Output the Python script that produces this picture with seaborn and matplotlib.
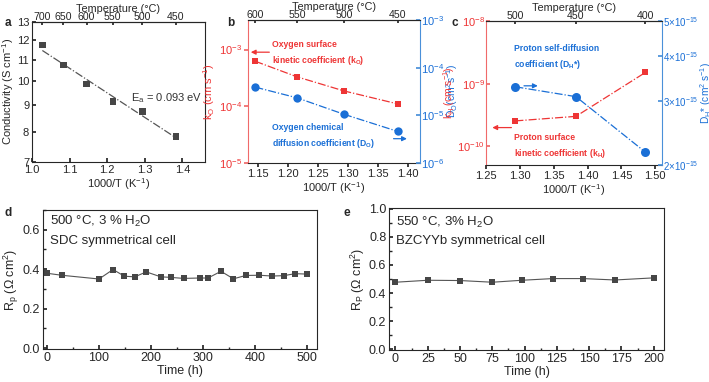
import numpy as np
import pandas as pd
import matplotlib.pyplot as plt
import seaborn as sns
from matplotlib.ticker import FixedLocator, NullLocator, AutoMinorLocator

# panel a: conductivity vs temperature
temp_a = [700, 650, 600, 550, 500, 450]
cond_a = [11.73, 10.74, 9.88, 9.14, 8.75, 7.83]

# panel b: oxygen kinetics
temp_b = [600, 550, 500, 450]
k_o = [6.2e-4, 3.3e-4, 1.86e-4, 1.1e-4]
d_o = [3.9e-5, 2.33e-5, 1.05e-5, 4.6e-6]

# panel c: proton kinetics
temp_c = [500, 450, 400]
k_h = [2.54e-10, 3.0e-10, 1.51e-9]
d_h = [3.29e-15, 3.09e-15, 2.17e-15]

# panel d: SDC stability
time_d = [0, 28, 100, 127, 149, 169, 191, 219, 239, 263, 294, 310, 335, 359, 383, 409, 434, 456, 478, 500]
rp_d = [0.379, 0.369, 0.350, 0.398, 0.364, 0.361, 0.386, 0.361, 0.358, 0.353, 0.355, 0.355, 0.389, 0.351, 0.368, 0.369, 0.365, 0.367, 0.377, 0.375]

# panel e: BZCYYb stability
time_e = [0, 25, 50, 75, 98, 122, 145, 170, 200]
rp_e = [0.477, 0.491, 0.489, 0.477, 0.491, 0.503, 0.503, 0.493, 0.508]

RED = '#ee3535'
RED_AX = '#f06a6a'
BLUE = '#1a6fd6'
BLUE_AX = '#4a90d9'
GREY = '#464646'


def inv(t):
    return 1000 / (np.asarray(t, dtype=float) + 273.15)


sns.set_theme(style="ticks")
plt.rcParams['font.family'] = ['Liberation Sans', 'DejaVu Sans']
plt.rcParams.update({
    'mathtext.fontset': 'custom',
    'mathtext.rm': 'Liberation Sans',
    'mathtext.it': 'Liberation Sans:italic',
    'mathtext.bf': 'Liberation Sans:bold',
    'font.size': 8,
    'axes.labelsize': 8,
    'xtick.labelsize': 8,
    'ytick.labelsize': 8,
    'axes.linewidth': 0.8,
    'xtick.major.size': 3,
    'ytick.major.size': 3,
    'xtick.major.pad': 1.5,
    'ytick.major.pad': 1.5,
    'axes.labelpad': 1,
})

fig = plt.figure(figsize=(7.09, 3.82), dpi=100)


def temp_top(ax, temps):
    top = ax.twiny()
    top.set_xlim(ax.get_xlim())
    top.set_xticks(inv(temps))
    top.set_xticklabels([str(t) for t in temps])
    top.set_xlabel('Temperature (°C)', labelpad=0, fontsize=7.8)
    for s in ['left', 'right', 'bottom']:
        top.spines[s].set_visible(False)
    top.tick_params(axis='x', direction='in', length=2.5, pad=0.3, labelsize=7.6)
    return top


# ---------------- a ----------------
ax_a = fig.add_axes([0.0451, 0.576, 0.244, 0.3665])
df_a = pd.DataFrame({'x': inv(temp_a), 'y': cond_a})
coef = np.polyfit(df_a['x'], np.log10(df_a['y']), 1)
ax_a.plot(df_a['x'], 10 ** np.polyval(coef, df_a['x']), ls='-.', color='#555555', lw=0.9)
sns.scatterplot(data=df_a, x='x', y='y', marker='s', s=22, color=GREY, edgecolor='none', ax=ax_a, zorder=3)
ax_a.set_yscale('log')
ax_a.set_ylim(7, 13)
ax_a.yaxis.set_major_locator(FixedLocator([7, 8, 9, 10, 11, 12, 13]))
ax_a.set_yticklabels(['7', '8', '9', '10', '11', '12', '13'])
ax_a.yaxis.set_minor_locator(NullLocator())
ax_a.set_xlim(1.0, 1.46)
ax_a.set_xticks([1.0, 1.1, 1.2, 1.3, 1.4])
ax_a.tick_params(direction='in', pad=2)
ax_a.set_xlabel('1000/T (K$^{-1}$)')
ax_a.set_ylabel('Conductivity (S cm$^{-1}$)', labelpad=0.5)
ax_a.text(1.262, 9.3, 'E$_\\mathrm{a}$ = 0.093 eV', fontsize=8, va='center', color='#333333')
temp_top(ax_a, temp_a)

# ---------------- b ----------------
ax_b = fig.add_axes([0.3498, 0.5733, 0.2426, 0.3743])
ax_br = ax_b.twinx()
df_b = pd.DataFrame({'x': inv(temp_b), 'k': k_o, 'd': d_o})
sns.lineplot(data=df_b, x='x', y='k', ax=ax_b, color=RED, ls='-.', lw=0.9,
             marker='s', markersize=4.5, markeredgewidth=0)
sns.lineplot(data=df_b, x='x', y='d', ax=ax_br, color=BLUE, ls='-.', lw=0.9,
             marker='o', markersize=6, markeredgewidth=0)
ax_b.set_yscale('log')
ax_br.set_yscale('log')
ax_b.set_ylim(1e-5, 10 ** -2.48)
ax_br.set_ylim(1e-6, 1e-3)
ax_b.set_xlim(1.133, 1.42)
ax_b.set_xticks([1.15, 1.20, 1.25, 1.30, 1.35, 1.40])
ax_b.set_xticklabels(['1.15', '1.20', '1.25', '1.30', '1.35', '1.40'])
ax_b.yaxis.set_minor_locator(NullLocator())
ax_br.yaxis.set_minor_locator(NullLocator())
ax_b.set_xlabel('1000/T (K$^{-1}$)')
ax_b.set_ylabel('k$_\\mathrm{O}$ (cm s$^{-1}$)', color=RED)
ax_br.set_ylabel('D$_\\mathrm{O}$(cm$^2$s$^{-1}$)', color=BLUE, labelpad=0, fontsize=7.5)
ax_b.spines['left'].set_color(RED_AX)
ax_b.spines['right'].set_visible(False)
ax_b.tick_params(axis='y', colors=RED_AX, labelcolor=RED)
for s in ['left', 'top', 'bottom']:
    ax_br.spines[s].set_visible(False)
ax_br.spines['right'].set_color(BLUE_AX)
ax_br.tick_params(axis='y', direction='in', colors=BLUE_AX, labelcolor=BLUE, pad=1)
ax_b.text(0.14, 0.86, 'Oxygen surface\nkinetic coefficient (k$_\\mathbf{O}$)', transform=ax_b.transAxes,
          color=RED, fontsize=6.2, fontweight='bold', va='top', ha='left', linespacing=1.6)
ax_b.annotate('', xy=(0.0, 0.775), xytext=(0.14, 0.775), xycoords='axes fraction',
              arrowprops=dict(arrowstyle='-|>', color=RED, lw=0.9, mutation_scale=7))
ax_b.text(0.14, 0.28, 'Oxygen chemical\ndiffusion coefficient (D$_\\mathbf{O}$)', transform=ax_b.transAxes,
          color=BLUE, fontsize=6.2, fontweight='bold', va='top', ha='left', linespacing=1.6)
ax_b.annotate('', xy=(0.94, 0.17), xytext=(0.83, 0.17), xycoords='axes fraction',
              arrowprops=dict(arrowstyle='-|>', color=BLUE, lw=0.9, mutation_scale=7))
temp_top(ax_b, temp_b)

# ---------------- c ----------------
ax_c = fig.add_axes([0.6855, 0.568, 0.2482, 0.377])
ax_cr = ax_c.twinx()
df_c = pd.DataFrame({'x': inv(temp_c), 'k': k_h, 'd': d_h})
sns.lineplot(data=df_c, x='x', y='k', ax=ax_c, color=RED, ls='-.', lw=0.9,
             marker='s', markersize=5, markeredgewidth=0)
sns.lineplot(data=df_c, x='x', y='d', ax=ax_cr, color=BLUE, ls='-.', lw=0.9,
             marker='o', markersize=6.5, markeredgewidth=0)
ax_c.set_yscale('log')
ax_cr.set_yscale('log')
ax_c.set_ylim(10 ** -10.3, 1e-8)
ax_cr.set_ylim(2e-15, 5e-15)
ax_c.yaxis.set_minor_locator(NullLocator())
ax_cr.yaxis.set_major_locator(FixedLocator([2e-15, 3e-15, 4e-15, 5e-15]))
ax_cr.set_yticklabels(['2×10$^{-15}$', '3×10$^{-15}$', '4×10$^{-15}$', '5×10$^{-15}$'])
ax_cr.yaxis.set_minor_locator(NullLocator())
ax_c.set_xlim(1.25, 1.51)
ax_c.set_xticks([1.25, 1.30, 1.35, 1.40, 1.45, 1.50])
ax_c.set_xticklabels(['1.25', '1.30', '1.35', '1.40', '1.45', '1.50'])
ax_c.set_xlabel('1000/T (K$^{-1}$)')
ax_c.set_ylabel('k$_\\mathrm{H}$ (cm s$^{-1}$)', color=RED, labelpad=0, fontsize=7.5)
ax_cr.set_ylabel('D$_\\mathrm{H}$* (cm$^2$ s$^{-1}$)', color=BLUE, labelpad=0, fontsize=7.3)
ax_c.spines['left'].set_color(RED_AX)
ax_c.spines['right'].set_visible(False)
ax_c.tick_params(axis='y', direction='in', colors=RED_AX, labelcolor=RED, pad=1)
for s in ['left', 'top', 'bottom']:
    ax_cr.spines[s].set_visible(False)
ax_cr.spines['right'].set_color(BLUE_AX)
ax_cr.tick_params(axis='y', direction='in', colors=BLUE_AX, labelcolor=BLUE, pad=0.8, labelsize=7)
ax_c.text(0.16, 0.84, 'Proton self-diffusion\ncoefficient (D$_\\mathbf{H}$*)', transform=ax_c.transAxes,
          color=BLUE, fontsize=6.2, fontweight='bold', va='top', ha='left', linespacing=1.6)
ax_c.annotate('', xy=(0.31, 0.55), xytext=(0.2, 0.55), xycoords='axes fraction',
              arrowprops=dict(arrowstyle='-|>', color=BLUE, lw=0.9, mutation_scale=7))
ax_c.text(0.16, 0.225, 'Proton surface\nkinetic coefficient (k$_\\mathbf{H}$)', transform=ax_c.transAxes,
          color=RED, fontsize=6.2, fontweight='bold', va='top', ha='left', linespacing=1.6)
ax_c.annotate('', xy=(0.02, 0.26), xytext=(0.16, 0.26), xycoords='axes fraction',
              arrowprops=dict(arrowstyle='-|>', color=RED, lw=0.9, mutation_scale=7))
temp_top(ax_c, temp_c)

# ---------------- d / e ----------------
def stability(ax, t, rp, xlim, ylim, xticks, yticks, ylab, line1, line2, y1, y2):
    df = pd.DataFrame({'t': t, 'rp': rp})
    sns.lineplot(data=df, x='t', y='rp', ax=ax, color='#555555', lw=0.8,
                 marker='s', markersize=4.2, markeredgewidth=0, markerfacecolor=GREY)
    ax.set_xlim(*xlim)
    ax.set_ylim(*ylim)
    ax.set_xticks(xticks)
    ax.set_yticks(yticks)
    ax.xaxis.set_minor_locator(AutoMinorLocator(2))
    ax.yaxis.set_minor_locator(AutoMinorLocator(2))
    ax.tick_params(which='both', direction='in')
    ax.tick_params(which='major', labelsize=9, pad=2)
    ax.tick_params(which='minor', length=1.8)
    ax.set_xlabel('Time (h)', fontsize=9)
    ax.set_ylabel(ylab, fontsize=9)
    ax.text(0.027, y1, line1, transform=ax.transAxes, fontsize=9.5, va='center')
    ax.text(0.027, y2, line2, transform=ax.transAxes, fontsize=9.5, va='center')


ax_d = fig.add_axes([0.0606, 0.0864, 0.3865, 0.3639])
stability(ax_d, time_d, rp_d, (-8, 520), (-0.005, 0.70), [0, 100, 200, 300, 400, 500],
          [0.0, 0.2, 0.4, 0.6], 'R$_\\mathrm{p}$ ($\\Omega$ cm$^2$)',
          '500 °C, 3 % H$_2$O', 'SDC symmetrical cell', 0.92, 0.775)
ax_d.set_yticklabels(['0.0', '0.2', '0.4', '0.6'])

ax_e = fig.add_axes([0.5487, 0.0838, 0.3879, 0.3717])
stability(ax_e, time_e, rp_e, (-5, 208), (-0.005, 1.005), [0, 25, 50, 75, 100, 125, 150, 175, 200],
          [0.0, 0.2, 0.4, 0.6, 0.8, 1.0], 'R$_\\mathrm{P}$ ($\\Omega$ cm$^2$)',
          '550 °C, 3% H$_2$O', 'BZCYYb symmetrical cell', 0.895, 0.765)
ax_e.set_yticklabels(['0.0', '0.2', '0.4', '0.6', '0.8', '1.0'])

# panel letters
for lab, x, y in [('a', 8, 23), ('b', 231, 23), ('c', 455, 23), ('d', 8, 213), ('e', 347, 213)]:
    fig.text(x / 709, 1 - y / 382, lab, fontsize=8.5, fontweight='bold', ha='center', va='center')

fig.savefig('out.png', dpi=100)
